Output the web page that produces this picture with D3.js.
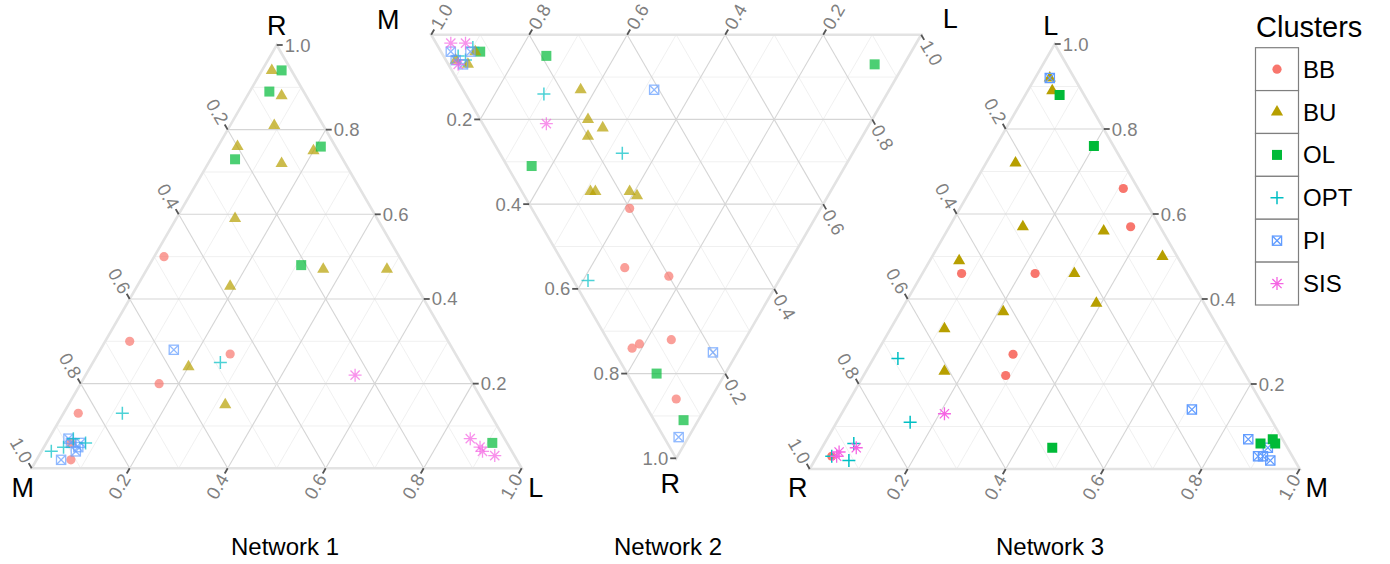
<!DOCTYPE html>
<html>
<head>
<meta charset="utf-8">
<script src="https://cdn.jsdelivr.net/npm/d3@7"></script>
<style>
  body { margin: 0; background: #fff; }
  text { font-family: "Liberation Sans", Arial, Helvetica, sans-serif; }
</style>
</head>
<body>
<div id="chart"></div>
<script>
const clusters = ["BB", "BU", "OL", "OPT", "PI", "SIS"];
const colors = ["#F8766D", "#B79F00", "#00BA38", "#00BFC4", "#619CFF", "#F564E3"];
const tickValues = [0.2, 0.4, 0.6, 0.8, 1.0];
const titles = ["Network 1", "Network 2", "Network 3"];

// rows: [cluster, R, M, L]
const net1 = [
  ["BU", 0.94, 0.04, 0.02], ["BU", 0.88, 0.05, 0.07], ["BU", 0.81, 0.10, 0.09],
  ["BU", 0.76, 0.20, 0.04], ["BU", 0.72, 0.13, 0.15], ["BU", 0.75, 0.05, 0.20],
  ["BU", 0.59, 0.29, 0.12], ["BU", 0.43, 0.38, 0.19], ["BU", 0.47, 0.17, 0.36],
  ["BU", 0.47, 0.04, 0.49], ["BU", 0.24, 0.56, 0.20], ["BU", 0.15, 0.53, 0.32],
  ["OL", 0.94, 0.02, 0.04], ["OL", 0.89, 0.07, 0.04], ["OL", 0.73, 0.22, 0.05],
  ["OL", 0.76, 0.03, 0.21], ["OL", 0.48, 0.21, 0.31], ["OL", 0.06, 0.03, 0.91],
  ["BB", 0.50, 0.48, 0.02], ["BB", 0.30, 0.65, 0.05], ["BB", 0.27, 0.46, 0.27],
  ["BB", 0.20, 0.64, 0.16], ["BB", 0.13, 0.84, 0.03], ["BB", 0.06, 0.89, 0.05],
  ["BB", 0.02, 0.91, 0.07],
  ["PI", 0.28, 0.57, 0.15], ["PI", 0.02, 0.93, 0.05], ["PI", 0.07, 0.89, 0.04],
  ["PI", 0.06, 0.89, 0.05], ["PI", 0.04, 0.89, 0.07], ["PI", 0.06, 0.87, 0.07],
  ["PI", 0.05, 0.88, 0.07],
  ["OPT", 0.25, 0.49, 0.26], ["OPT", 0.13, 0.75, 0.12], ["OPT", 0.04, 0.94, 0.02],
  ["OPT", 0.05, 0.91, 0.04], ["OPT", 0.07, 0.88, 0.05], ["OPT", 0.06, 0.86, 0.08],
  ["SIS", 0.22, 0.23, 0.55], ["SIS", 0.07, 0.07, 0.86], ["SIS", 0.05, 0.06, 0.89],
  ["SIS", 0.04, 0.06, 0.90], ["SIS", 0.03, 0.04, 0.93]
];

const net2 = [
  ["OL", 0.05, 0.74, 0.21], ["OL", 0.31, 0.64, 0.05], ["OL", 0.07, 0.06, 0.87],
  ["OL", 0.80, 0.14, 0.06], ["OL", 0.91, 0.03, 0.06], ["OL", 0.04, 0.88, 0.08],
  ["OPT", 0.14, 0.70, 0.16], ["OPT", 0.28, 0.47, 0.25], ["OPT", 0.58, 0.39, 0.03],
  ["OPT", 0.05, 0.92, 0.03], ["OPT", 0.03, 0.90, 0.07], ["OPT", 0.06, 0.90, 0.04],
  ["BU", 0.13, 0.63, 0.24], ["BU", 0.20, 0.58, 0.22], ["BU", 0.22, 0.54, 0.24],
  ["BU", 0.24, 0.56, 0.20], ["BU", 0.37, 0.48, 0.15], ["BU", 0.37, 0.49, 0.14],
  ["BU", 0.37, 0.41, 0.22], ["BU", 0.38, 0.39, 0.23], ["BU", 0.04, 0.89, 0.07],
  ["BU", 0.06, 0.92, 0.02], ["BU", 0.07, 0.89, 0.04],
  ["PI", 0.13, 0.48, 0.39], ["PI", 0.75, 0.05, 0.20], ["PI", 0.95, 0.02, 0.03],
  ["PI", 0.04, 0.94, 0.02], ["PI", 0.04, 0.90, 0.06], ["PI", 0.07, 0.90, 0.03],
  ["PI", 0.06, 0.92, 0.02],
  ["SIS", 0.21, 0.66, 0.13], ["SIS", 0.02, 0.95, 0.03], ["SIS", 0.02, 0.92, 0.06],
  ["SIS", 0.07, 0.91, 0.02],
  ["BB", 0.41, 0.39, 0.20], ["BB", 0.55, 0.33, 0.12], ["BB", 0.57, 0.23, 0.20],
  ["BB", 0.73, 0.21, 0.06], ["BB", 0.74, 0.22, 0.04], ["BB", 0.72, 0.15, 0.13],
  ["BB", 0.86, 0.07, 0.07]
];

const net3 = [
  ["BU", 0.05, 0.03, 0.92], ["BU", 0.06, 0.05, 0.89], ["BU", 0.22, 0.06, 0.72],
  ["BU", 0.28, 0.15, 0.57], ["BU", 0.12, 0.32, 0.56], ["BU", 0.03, 0.47, 0.50],
  ["BU", 0.45, 0.06, 0.49], ["BU", 0.23, 0.31, 0.46], ["BU", 0.42, 0.21, 0.37],
  ["BU", 0.56, 0.11, 0.33], ["BU", 0.61, 0.16, 0.23], ["BU", 0.22, 0.39, 0.39],
  ["PI", 0.05, 0.03, 0.92], ["PI", 0.15, 0.71, 0.14], ["PI", 0.07, 0.86, 0.07],
  ["PI", 0.04, 0.91, 0.05], ["PI", 0.06, 0.91, 0.03], ["PI", 0.05, 0.93, 0.02],
  ["PI", 0.07, 0.90, 0.03],
  ["OL", 0.05, 0.07, 0.88], ["OL", 0.04, 0.20, 0.76], ["OL", 0.48, 0.47, 0.05],
  ["OL", 0.05, 0.89, 0.06], ["OL", 0.02, 0.91, 0.07], ["OL", 0.02, 0.92, 0.06],
  ["BB", 0.03, 0.31, 0.66], ["BB", 0.06, 0.37, 0.57], ["BB", 0.46, 0.08, 0.46],
  ["BB", 0.31, 0.23, 0.46], ["BB", 0.45, 0.28, 0.27], ["BB", 0.49, 0.29, 0.22],
  ["BB", 0.94, 0.03, 0.03],
  ["OPT", 0.69, 0.05, 0.26], ["OPT", 0.74, 0.15, 0.11], ["OPT", 0.88, 0.06, 0.06],
  ["OPT", 0.91, 0.07, 0.02], ["OPT", 0.94, 0.03, 0.03],
  ["SIS", 0.66, 0.21, 0.13], ["SIS", 0.92, 0.04, 0.04], ["SIS", 0.88, 0.07, 0.05],
  ["SIS", 0.93, 0.04, 0.03]
];

const W = 1390, H = 564;
const halfW = 245;

const svg = d3.select("#chart").append("svg")
  .attr("width", W).attr("height", H);

const color = d3.scaleOrdinal().domain(clusters).range(colors);

// layout of each ternary panel (apex vertex + left/right base vertices)
const panels = [
  {title: titles[0], data: net1, apex: "R", left: "M", right: "L", up: true,
   cx: 276.7, yApex: 45, yBase: 468.3, alpha: 0.7, titleX: 285,
   vlab: {R: [0, -10], M: [-9, 29], L: [14, 29]}},
  {title: titles[1], data: net2, apex: "R", left: "M", right: "L", up: false,
   cx: 676.2, yApex: 458.3, yBase: 34.7, alpha: 0.7, titleX: 668,
   vlab: {R: [-6, 35], M: [-43, -6], L: [29, -7]}},
  {title: titles[2], data: net3, apex: "L", left: "R", right: "M", up: true,
   cx: 1054.7, yApex: 44, yBase: 469, alpha: 1, titleX: 1050,
   vlab: {L: [-4, -9], R: [-12, 28], M: [17, 28]}}
];

const toComp = d => ({R: d[1], M: d[2], L: d[3]});

function symbol(g, cl, x, y, fill, alpha) {
  const s = g.append("g")
    .attr("transform", `translate(${x},${y})`)
    .attr("opacity", alpha);
  if (cl === "BB") {
    s.append("circle").attr("r", 4.6).attr("fill", fill);
  } else if (cl === "BU") {
    s.append("path").attr("d", d3.symbol(d3.symbolTriangle, 64)()).attr("fill", fill);
  } else if (cl === "OL") {
    s.append("rect").attr("x", -5).attr("y", -5).attr("width", 10).attr("height", 10).attr("fill", fill);
  } else if (cl === "OPT") {
    s.append("path").attr("d", "M-6.5,0H6.5M0,-6.5V6.5")
      .attr("stroke", fill).attr("stroke-width", 1.5).attr("fill", "none");
  } else if (cl === "PI") {
    s.append("rect").attr("x", -4.6).attr("y", -4.6).attr("width", 9.2).attr("height", 9.2)
      .attr("stroke", fill).attr("stroke-width", 1.3).attr("fill", "none");
    s.append("path").attr("d", "M-4.6,-4.6L4.6,4.6M-4.6,4.6L4.6,-4.6")
      .attr("stroke", fill).attr("stroke-width", 1.3);
  } else if (cl === "SIS") {
    s.append("path").attr("d", "M-6.5,0H6.5M0,-6.5V6.5M-4.6,-4.6L4.6,4.6M-4.6,4.6L4.6,-4.6")
      .attr("stroke", fill).attr("stroke-width", 1.3).attr("fill", "none");
  }
}

panels.forEach(p => {
  const g = svg.append("g");
  const sx = d3.scaleLinear().domain([-1, 1]).range([p.cx - halfW, p.cx + halfW]);
  const sy = d3.scaleLinear().domain([0, 1]).range([p.yBase, p.yApex]);
  const proj = c => [sx(c[p.right] - c[p.left]), sy(c[p.apex])];
  const vars = [p.apex, p.left, p.right];
  const unit = v => { const c = {R: 0, M: 0, L: 0}; c[v] = 1; return proj(c); };
  const V = {}; vars.forEach(v => V[v] = unit(v));

  // clockwise order of vertices
  const cw = p.up ? [p.apex, p.right, p.left] : [p.left, p.right, p.apex];
  const next = v => cw[(cw.indexOf(v) + 1) % 3];
  const prev = v => cw[(cw.indexOf(v) + 2) % 3];

  // grid
  const steps = d3.range(1, 10).map(i => i / 10);
  [false, true].forEach(major => {
    vars.forEach(v => {
      const [a, b] = vars.filter(w => w !== v);
      steps.filter(t => (Math.round(t * 10) % 2 === 0) === major).forEach(t => {
        const c1 = {R: 0, M: 0, L: 0}, c2 = {R: 0, M: 0, L: 0};
        c1[v] = t; c1[a] = 1 - t;
        c2[v] = t; c2[b] = 1 - t;
        const p1 = proj(c1), p2 = proj(c2);
        g.append("line")
          .attr("x1", p1[0]).attr("y1", p1[1]).attr("x2", p2[0]).attr("y2", p2[1])
          .attr("stroke", major ? "#d5d5d5" : "#ececec")
          .attr("stroke-width", major ? 1.1 : 0.8);
      });
    });
  });

  // border
  g.append("path")
    .attr("d", d3.line()(cw.map(v => V[v])) + "Z")
    .attr("fill", "none").attr("stroke", "#e3e3e3").attr("stroke-width", 2.6);

  // ticks + labels
  vars.forEach(v => {
    const n = next(v), pr = prev(v);
    let dx = V[n][0] - V[pr][0], dy = V[n][1] - V[pr][1];
    const len = Math.hypot(dx, dy); dx /= len; dy /= len;
    let ang = Math.atan2(dy, dx) * 180 / Math.PI;
    let anchor = "start";
    if (dx < -0.01) { ang += 180; anchor = "end"; }
    tickValues.forEach(t => {
      const c = {R: 0, M: 0, L: 0}; c[v] = t; c[n] = 1 - t;
      const b = proj(c);
      g.append("line")
        .attr("x1", b[0]).attr("y1", b[1])
        .attr("x2", b[0] + dx * 6).attr("y2", b[1] + dy * 6)
        .attr("stroke", "#555").attr("stroke-width", 1.8);
      const lx = b[0] + dx * 8, ly = b[1] + dy * 8;
      g.append("text")
        .attr("transform", `translate(${lx},${ly}) rotate(${ang})`)
        .attr("text-anchor", anchor)
        .attr("dominant-baseline", "central")
        .attr("font-size", 18.5).attr("fill", "#7f7f7f")
        .text(d3.format(".1f")(t));
    });
    // vertex label
    g.append("text")
      .attr("x", V[v][0] + p.vlab[v][0]).attr("y", V[v][1] + p.vlab[v][1])
      .attr("text-anchor", "middle")
      .attr("font-size", 27).attr("fill", "#000")
      .text(v);
  });

  // points
  p.data.forEach(d => {
    const c = toComp(d);
    const s = c.R + c.M + c.L;
    const xy = proj({R: c.R / s, M: c.M / s, L: c.L / s});
    symbol(g, d[0], xy[0], xy[1], color(d[0]), p.alpha);
  });

  g.append("text")
    .attr("x", p.titleX).attr("y", 555)
    .attr("text-anchor", "middle")
    .attr("font-size", 24).attr("fill", "#000")
    .text(p.title);
});

// legend
const lg = svg.append("g");
lg.append("text").attr("x", 1256).attr("y", 37)
  .attr("font-size", 29).attr("fill", "#000").text("Clusters");
const keyY = d3.scaleBand().domain(clusters).range([47.7, 305]);
clusters.forEach(cl => {
  const y0 = keyY(cl), h = keyY.bandwidth();
  lg.append("rect").attr("x", 1255.5).attr("y", y0).attr("width", 43).attr("height", h)
    .attr("fill", "#fff").attr("stroke", "#7f7f7f").attr("stroke-width", 1.2);
  symbol(lg, cl, 1277, y0 + h / 2, color(cl), 1);
  lg.append("text").attr("x", 1303).attr("y", y0 + h / 2)
    .attr("dominant-baseline", "central")
    .attr("font-size", 24).attr("fill", "#000").text(cl);
});
</script>
</body>
</html>
